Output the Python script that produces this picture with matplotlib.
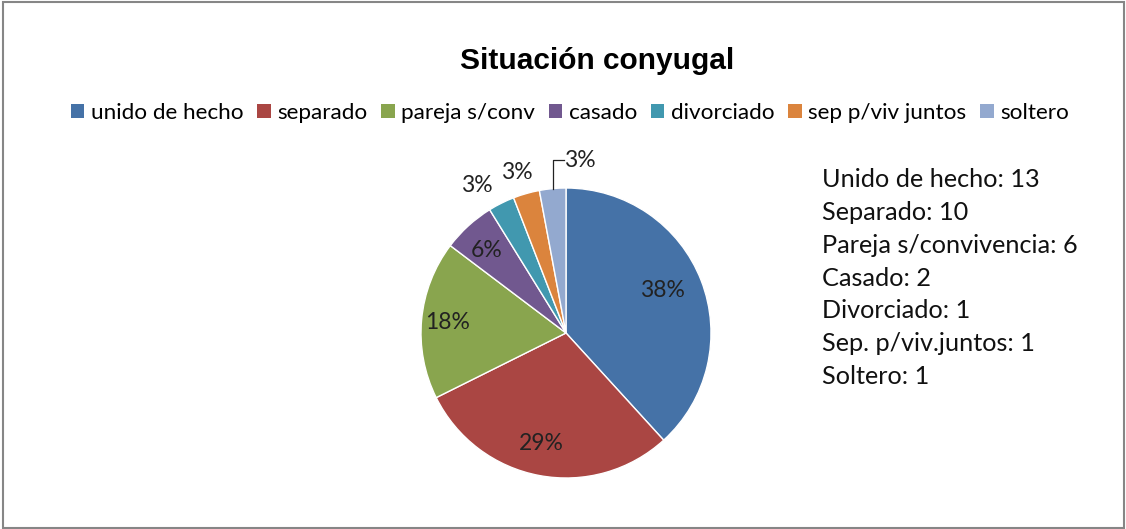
import matplotlib
matplotlib.use("Agg")
import matplotlib.pyplot as plt
from matplotlib.patches import Patch, Rectangle
import numpy as np

categories = ["unido de hecho", "separado", "pareja s/conv", "casado",
              "divorciado", "sep p/viv juntos", "soltero"]
values = [13, 10, 6, 2, 1, 1, 1]
colors = ["#4572A7", "#AA4643", "#89A54E", "#71588F", "#4198AF", "#DB843D", "#93A9CF"]
side_lines = ["Unido de hecho: 13", "Separado: 10", "Pareja s/convivencia: 6",
              "Casado: 2", "Divorciado: 1", "Sep. p/viv.juntos: 1", "Soltero: 1"]
title = "Situación conyugal"

W, H = 1126, 529
fig = plt.figure(figsize=(W / 100, H / 100), dpi=100)
FONT = "Lato"

# pie axes: center (566,333) px, radius 145 px
cx, cy, r = 566, 333, 145
ax = fig.add_axes([(cx - r) / W, 1 - (cy + r) / H, 2 * r / W, 2 * r / H])
wedges, _ = ax.pie(values, colors=colors, startangle=90, counterclock=False,
                   radius=1.0, wedgeprops=dict(edgecolor="white", linewidth=1.0))
ax.set_xlim(-1, 1)
ax.set_ylim(-1, 1)
ax.set_aspect("equal")
ax.axis("off")

total = sum(values)
label_r = [0.73, 0.78, 0.82, 0.79, 1.19, 1.16, 1.19]
label_da = [2.5, -2.0, 0.0, 1.5, 4.8, 1.1, 0.0]
for i, (w, v) in enumerate(zip(wedges, values)):
    mid = np.deg2rad((w.theta1 + w.theta2) / 2 + label_da[i])
    pct = f"{round(100 * v / total)}%"
    if i < 6:
        x, y = label_r[i] * np.cos(mid), label_r[i] * np.sin(mid)
        ax.text(x, y, pct, ha="center", va="center", fontsize=16.5, family=FONT,
                color="#222222", clip_on=False)
    else:
        # leader line label
        x0, y0 = 0.99 * np.cos(mid), 0.99 * np.sin(mid)
        ax.plot([x0, x0, x0 + 0.075], [y0 + 0.01, label_r[i], label_r[i]],
                color="#222222", lw=0.9, clip_on=False)
        ax.text(x0 + 0.08, label_r[i], pct, ha="left", va="center", fontsize=16.5,
                family=FONT, color="#222222", clip_on=False)

fig.text(597 / W, 1 - 61 / H, title, ha="center", va="center", fontsize=21.5,
         fontweight="bold", family="Liberation Sans")

handles = [Patch(facecolor=c, edgecolor="none") for c in colors]
fig.legend(handles, categories, loc="center", bbox_to_anchor=(570 / W, 1 - 113 / H),
           ncol=7, frameon=False, prop=dict(family=FONT, size=16.2),
           handlelength=0.6, handleheight=0.6, handletextpad=0.3,
           columnspacing=0.6, borderpad=0)

for k, s in enumerate(side_lines):
    fig.text(822 / W, 1 - (180 + 32.7 * k) / H, s, ha="left", va="center",
             fontsize=18.2, family=FONT, color="#111111")

fig.patches.append(Rectangle((3 / W, 1 / H), 1121 / W, 526 / H, transform=fig.transFigure,
                             fill=False, edgecolor="#868686", linewidth=1.5))

fig.savefig("out.png", dpi=100, facecolor="white")
